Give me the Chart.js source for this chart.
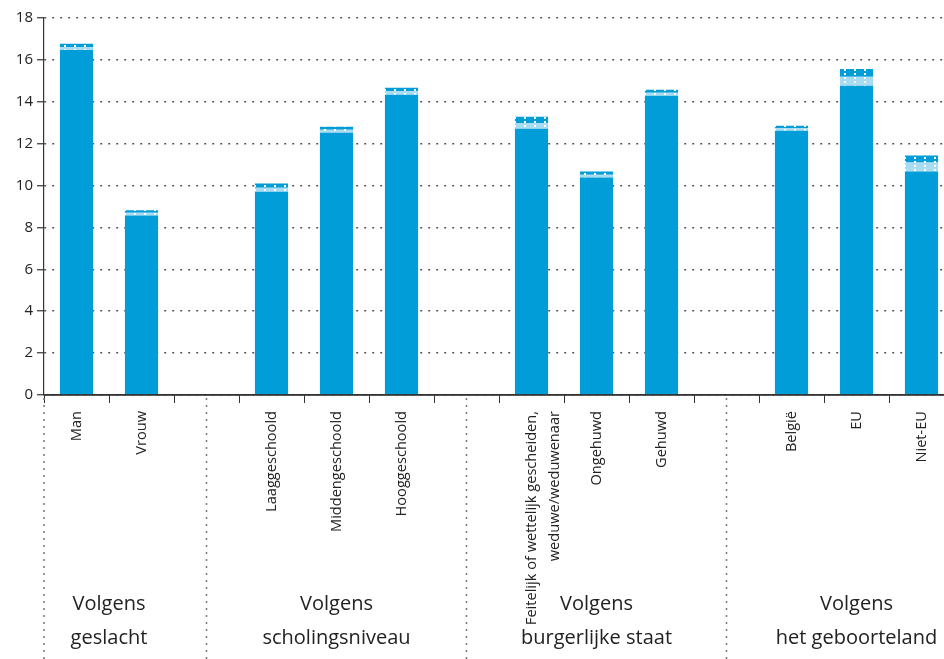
<!DOCTYPE html>
<html>
<head>
<meta charset="utf-8">
<script src="https://cdn.jsdelivr.net/npm/chart.js@4/dist/chart.umd.min.js"></script>
<style>
  html, body { margin: 0; padding: 0; background: #fff; overflow: hidden; }
  #wrap { width: 954px; height: 659px; }
</style>
</head>
<body>
<div id="wrap"><canvas id="chart"></canvas></div>
<script>
// slots: gaps between groups are empty labels
const categories = ['Man', 'Vrouw', '', 'Laaggeschoold', 'Middengeschoold', 'Hooggeschoold', '',
    ['Feitelijk of wettelijk gescheiden,', 'weduwe/weduwenaar'], 'Ongehuwd', 'Gehuwd', '',
    'België', 'EU', 'Niet-EU'];
const lowerCI  = [16.47, 8.57, null, 9.71, 12.52, 14.33, null, 12.71, 10.38, 14.29, null, 12.62, 14.76, 10.67];
const estimate = [16.62, 8.70, null, 9.90, 12.66, 14.50, null, 12.99, 10.52, 14.43, null, 12.74, 15.19, 11.10];
const upperCI  = [16.77, 8.82, null, 10.10, 12.81, 14.67, null, 13.29, 10.67, 14.58, null, 12.86, 15.57, 11.43];
const yTicks = [0, 2, 4, 6, 8, 10, 12, 14, 16, 18];
const groupNames = [['Volgens', 'geslacht'], ['Volgens', 'scholingsniveau'],
    ['Volgens', 'burgerlijke staat'], ['Volgens', 'het geboorteland']];
const groupSlots = [[0, 1], [3, 5], [7, 9], [11, 13]];
const dividerSlots = [2, 6, 10];

const blue = '#009dd9';
const lightBlue = '#a9dbf1';

function dotPattern(bg) {
    const c = document.createElement('canvas');
    c.width = 10; c.height = 4;
    const g = c.getContext('2d');
    g.fillStyle = bg;
    g.fillRect(0, 0, 10, 4);
    g.fillStyle = '#fff';
    g.fillRect(4, 1, 2, 2);
    return g.createPattern(c, 'repeat');
}

const lowerBand = estimate.map((v, i) => v == null ? null : +(v - lowerCI[i]).toFixed(2));
const upperBand = upperCI.map((v, i) => v == null ? null : +(v - estimate[i]).toFixed(2));

Chart.defaults.font.family = "'Open Sans', 'Noto Sans', sans-serif";
Chart.defaults.color = '#222';

const groupPlugin = {
    id: 'groups',
    afterDraw(chart) {
        const ctx = chart.ctx;
        const x = chart.scales.x;
        const area = chart.chartArea;
        ctx.save();
        // solid zero line
        ctx.strokeStyle = '#333';
        ctx.lineWidth = 1.3;
        ctx.beginPath();
        ctx.moveTo(area.left, area.bottom);
        ctx.lineTo(area.right, area.bottom);
        ctx.stroke();

        ctx.strokeStyle = '#777';
        ctx.lineWidth = 1.5;
        ctx.setLineDash([2, 5]);
        const xs = [area.left].concat(dividerSlots.map(s => x.getPixelForValue(s)));
        xs.forEach(px => {
            ctx.beginPath();
            ctx.moveTo(px, area.bottom + 3);
            ctx.lineTo(px, chart.height);
            ctx.stroke();
        });
        ctx.setLineDash([]);
        ctx.fillStyle = '#222';
        ctx.font = "20px 'Open Sans', 'Noto Sans', sans-serif";
        ctx.textAlign = 'center';
        ctx.textBaseline = 'middle';
        groupSlots.forEach((s, i) => {
            const cx = (x.getPixelForValue(s[0]) + x.getPixelForValue(s[1])) / 2;
            ctx.fillText(groupNames[i][0], cx, 604);
            ctx.fillText(groupNames[i][1], cx, 638);
        });
        ctx.restore();
    }
};

new Chart(document.getElementById('chart'), {
    type: 'bar',
    data: {
        labels: categories,
        datasets: [
            { data: lowerCI, backgroundColor: blue },
            { data: lowerBand, backgroundColor: dotPattern(lightBlue) },
            { data: upperBand, backgroundColor: dotPattern(blue) }
        ]
    },
    options: {
        responsive: true,
        maintainAspectRatio: false,
        animation: false,
        barPercentage: 0.51,
        categoryPercentage: 1,
        layout: { padding: { top: 18, left: 0, right: 0, bottom: 0 } },
        plugins: { legend: { display: false }, tooltip: { enabled: false } },
        scales: {
            x: {
                stacked: true,
                afterFit(scale) { scale.height = 264; },
                border: { color: '#333', width: 1.2 },
                grid: { offset: true, drawOnChartArea: false, drawTicks: true, tickLength: 8, color: '#333' },
                ticks: {
                    autoSkip: false, maxRotation: 90, minRotation: 90, padding: 8,
                    font: { size: 14.6, lineHeight: 1.6 }, color: '#222'
                }
            },
            y: {
                stacked: true,
                min: 0, max: 18,
                afterFit(scale) { scale.width = 44; },
                afterBuildTicks(scale) { scale.ticks = yTicks.map(v => ({ value: v })); },
                border: { color: '#333', width: 1.2, dash: [2, 6] },
                grid: {
                    color: '#555', lineWidth: 1.5,
                    tickLength: 7, tickColor: '#333', tickBorderDash: [], tickWidth: 1.2
                },
                ticks: { font: { size: 15 }, color: '#222', padding: 4 }
            }
        }
    },
    plugins: [groupPlugin]
});
</script>
</body>
</html>
